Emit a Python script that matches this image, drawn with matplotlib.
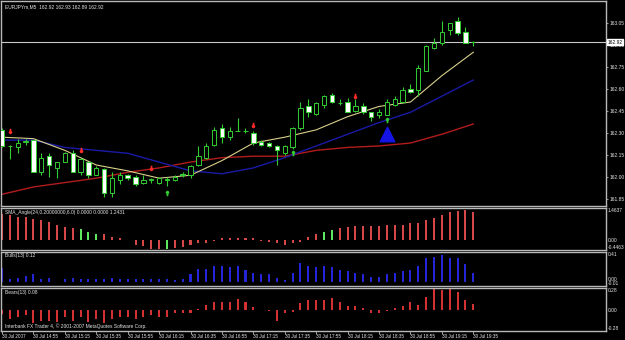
import matplotlib
matplotlib.use('Agg')
import matplotlib.pyplot as plt
import matplotlib.transforms as mtrans
from matplotlib.patches import Rectangle

# EURJPYm M5 candles (61 bars, 14:35 .. 19:35)
opens = [162.32, 162.21, 162.20, 162.24, 162.25, 162.03, 162.14, 162.06, 162.10, 162.16,
         162.03, 162.10, 162.01, 162.05, 161.89, 161.98, 162.01, 162.00, 161.96, 161.98,
         161.96, 161.98, 161.98, 162.02, 162.01, 162.08, 162.13, 162.22, 162.33, 162.27,
         162.31, 162.31, 162.30, 162.24, 162.23, 162.21, 162.16, 162.20, 162.33, 162.48,
         162.43, 162.49, 162.56, 162.50, 162.51, 162.45, 162.48, 162.44, 162.42, 162.42,
         162.49, 162.51, 162.60, 162.59, 162.72, 162.88, 162.91, 163.00, 163.06, 162.99,
         162.92]
highs = [162.33, 162.22, 162.26, 162.26, 162.25, 162.16, 162.16, 162.10, 162.17, 162.18,
         162.13, 162.10, 162.07, 162.06, 162.03, 162.03, 162.02, 162.01, 162.01, 161.99,
         162.00, 162.00, 162.01, 162.03, 162.08, 162.21, 162.23, 162.34, 162.36, 162.34,
         162.40, 162.33, 162.31, 162.25, 162.24, 162.22, 162.22, 162.34, 162.51, 162.53,
         162.51, 162.56, 162.57, 162.53, 162.54, 162.53, 162.50, 162.44, 162.46, 162.53,
         162.55, 162.61, 162.63, 162.76, 162.90, 162.95, 163.06, 163.05, 163.09, 163.02,
         162.93]
lows = [162.20, 162.12, 162.16, 162.22, 162.03, 162.01, 162.00, 161.99, 162.10, 162.03,
        162.01, 161.99, 162.01, 161.86, 161.86, 161.95, 161.98, 161.94, 161.95, 161.96,
        161.95, 161.94, 161.97, 162.00, 161.99, 162.07, 162.12, 162.21, 162.23, 162.25,
        162.31, 162.30, 162.22, 162.21, 162.20, 162.08, 162.15, 162.19, 162.32, 162.41,
        162.42, 162.47, 162.50, 162.49, 162.44, 162.44, 162.43, 162.38, 162.40, 162.42,
        162.48, 162.50, 162.57, 162.55, 162.72, 162.87, 162.90, 162.97, 162.97, 162.91,
        162.89]
closes = [162.21, 162.21, 162.23, 162.24, 162.03, 162.13, 162.08, 162.10, 162.16, 162.03,
          162.12, 162.01, 162.06, 161.89, 161.99, 162.01, 161.99, 161.95, 161.98, 161.98,
          161.99, 161.98, 162.00, 162.01, 162.07, 162.14, 162.21, 162.32, 162.27, 162.31,
          162.31, 162.31, 162.23, 162.22, 162.21, 162.18, 162.21, 162.33, 162.47, 162.44,
          162.50, 162.55, 162.51, 162.50, 162.44, 162.48, 162.44, 162.41, 162.44, 162.51,
          162.53, 162.59, 162.58, 162.74, 162.89, 162.91, 162.99, 163.05, 162.98, 162.91,
          162.92]

# moving averages, sampled every 4th bar
ma_idx = list(range(0, 61, 4))
ma_fast = [162.27, 162.26, 162.18, 162.08, 162.04, 161.99, 162.01, 162.11,
           162.23, 162.27, 162.32, 162.41, 162.48, 162.51, 162.69, 162.85]
ma_mid = [162.25, 162.25, 162.20, 162.18, 162.16, 162.10, 162.04, 162.02,
          162.06, 162.13, 162.21, 162.29, 162.37, 162.44, 162.55, 162.66]
ma_slow = [161.88, 161.93, 161.96, 161.99, 162.03, 162.06, 162.10, 162.13,
           162.14, 162.14, 162.18, 162.20, 162.21, 162.23, 162.29, 162.36]

# fractal arrows and signal
down_idx = [1, 10, 19, 32, 45]
down_val = [162.31, 162.18, 162.06, 162.355, 162.55]
up_idx = [21, 37, 49]
up_val = [161.89, 162.16, 162.39]
signal_idx = [49]
signal_val = [162.29]

price_ticks = [163.05, 162.90, 162.75, 162.60, 162.45, 162.30, 162.15, 162.00, 161.85]
last_price = 162.92

# SMA_Angle histogram
angle = [1.21, 1.14, 1.06, 1.06, 0.98, 0.91, 0.83, 0.71, 0.61, 0.56,
         0.50, 0.38, 0.30, 0.26, 0.15, 0.08, 0.02, -0.20, -0.26, -0.38,
         -0.38, -0.41, -0.35, -0.30, -0.23, -0.15, -0.11, -0.05, 0.08, 0.08,
         0.10, 0.10, 0.08, -0.05, -0.10, -0.15, -0.20, -0.15, -0.08, 0.15,
         0.26, 0.35, 0.45, 0.56, 0.61, 0.65, 0.65, 0.65, 0.65, 0.68,
         0.68, 0.71, 0.76, 0.80, 0.91, 0.99, 1.14, 1.26, 1.32, 1.38,
         1.30]
angle_green = [10, 11, 12, 21, 41, 42]

bulls = [0.19, 0.04, 0.05, 0.08, 0.10, 0.03, 0.05, -0.01, 0.04, 0.05,
         0.03, 0.03, 0.04, 0.03, 0.05, 0.04, 0.03, 0.03, 0.04, 0.03,
         0.04, 0.03, 0.02, 0.03, 0.10, 0.18, 0.17, 0.22, 0.22, 0.20,
         0.22, 0.16, 0.12, 0.10, 0.10, 0.05, 0.02, 0.12, 0.26, 0.22,
         0.20, 0.22, 0.20, 0.16, 0.15, 0.12, 0.10, 0.06, 0.07, 0.11,
         0.12, 0.15, 0.16, 0.22, 0.33, 0.34, 0.37, 0.33, 0.33, 0.24,
         0.12]

bears = [-0.05, -0.11, -0.09, -0.06, -0.16, -0.13, -0.13, -0.15, -0.08, -0.13,
         -0.08, -0.15, -0.11, -0.16, -0.11, -0.08, -0.09, -0.11, -0.08, -0.06,
         -0.08, -0.09, -0.04, -0.04, -0.03, 0.02, 0.07, 0.11, 0.10, 0.11,
         0.14, 0.11, 0.04, 0.01, -0.01, -0.13, -0.04, -0.02, 0.09, 0.13,
         0.13, 0.13, 0.15, 0.11, 0.06, 0.06, 0.03, -0.03, -0.03, -0.01,
         0.03, 0.06, 0.10, 0.07, 0.17, 0.28, 0.25, 0.27, 0.23, 0.13,
         0.08]

time_labels = ['30 Jul 2007', '30 Jul 14:55', '30 Jul 15:15', '30 Jul 15:35',
               '30 Jul 15:55', '30 Jul 16:15', '30 Jul 16:35', '30 Jul 16:55',
               '30 Jul 17:15', '30 Jul 17:35', '30 Jul 17:55', '30 Jul 18:15',
               '30 Jul 18:35', '30 Jul 18:55', '30 Jul 19:15', '30 Jul 19:35']

plt.rcParams['font.family'] = ['Liberation Sans', 'DejaVu Sans']

W, H = 625, 340
FS = 3.5
TXT = '#e6e6e6'
FRAME = '#b8b8b8'
WICK = '#33cc33'

fig = plt.figure(figsize=(W / 100, H / 100), dpi=100, facecolor='black')


def panel(top, bottom):
    a = fig.add_axes([1 / W, (H - bottom) / H, 605 / W, (bottom - top) / H])
    a.set_facecolor('black')
    for s in a.spines.values():
        s.set_color(FRAME)
        s.set_linewidth(1.0)
    a.set_xlim(-0.13, 76.9)
    a.tick_params(axis='x', bottom=False, labelbottom=False)
    a.yaxis.tick_right()
    a.tick_params(axis='y', colors=FRAME, labelcolor=TXT, labelsize=FS,
                  length=1.5, width=0.6, pad=0.8)
    return a


ax = panel(1, 206)
ax2 = panel(208, 250)
ax3 = panel(252, 286)
ax4 = panel(288, 331)

# ---- main price window ----
ax.set_ylim(161.80, 163.20)
xs = list(range(len(opens)))
ax.vlines(xs, lows, highs, color=WICK, lw=0.8, zorder=2)
for i in xs:
    o, c = opens[i], closes[i]
    bot = min(o, c)
    h = max(abs(c - o), 0.003)
    face = 'white' if c < o else 'black'
    ax.add_patch(Rectangle((i - 0.28, bot), 0.56, h, facecolor=face,
                           edgecolor=WICK, lw=0.7, zorder=3))

ax.plot(ma_idx, ma_slow, color='#b21c1c', lw=1.0, zorder=1)
ax.plot(ma_idx, ma_mid, color='#1a1aa6', lw=1.0, zorder=1)
ax.plot(ma_idx, ma_fast, color='#d9d08a', lw=0.8, zorder=1)

ax.scatter(down_idx, down_val, marker=r'$\downarrow$', s=9, color='#ff2a2a', zorder=4)
ax.scatter(up_idx, up_val, marker=r'$\uparrow$', s=9, color=WICK, zorder=4)
ax.scatter(signal_idx, signal_val, marker='^', s=110, color='#1414e6', zorder=4)

ax.axhline(last_price, color='#c8c8c8', lw=0.8, zorder=0)
ax.set_yticks(price_ticks)
ax.set_yticklabels(['%.2f' % p for p in price_ticks])
tr = mtrans.blended_transform_factory(ax.transAxes, ax.transData)
ax.text(1.003, last_price, '%.2f' % last_price, transform=tr, fontsize=FS,
        color='black', va='center', ha='left', zorder=5,
        bbox=dict(facecolor='white', edgecolor='white', pad=0.4))
ax.text(0.006, 0.985, 'EURJPYm,M5  162.92 162.93 162.89 162.92',
        transform=ax.transAxes, fontsize=FS, color=TXT, va='top', ha='left')

# ---- sub windows ----
ang_colors = ['#5ee65e' if i in angle_green else '#d64848' for i in xs]
ax2.bar(xs, angle, width=0.26, color=ang_colors)
ax2.set_ylim(-0.4463, 1.4637)
ax3.bar(xs, bulls, width=0.26, color='#2424d8')
ax3.set_ylim(-0.06, 0.41)
ax4.bar(xs, bears, width=0.26, color='#d43232')
ax4.set_ylim(-0.26, 0.28)


def scale_labels(a, top_txt, zero_va, bot_txt, name):
    a.set_yticks([])
    t = mtrans.blended_transform_factory(a.transAxes, a.transData)
    a.text(1.003, 1.0, top_txt, transform=a.transAxes, fontsize=FS,
           color=TXT, va='top', ha='left')
    a.text(1.003, 0.0, '0.00', transform=t, fontsize=FS, color=TXT,
           va=zero_va, ha='left')
    a.text(1.003, 0.0, bot_txt, transform=a.transAxes, fontsize=FS,
           color=TXT, va='bottom', ha='left')
    a.text(0.006, 0.96, name, transform=a.transAxes, fontsize=FS,
           color=TXT, va='top', ha='left')


scale_labels(ax2, '1.4637', 'center', '-0.4463',
             'SMA_Angle(24,0.20000000,6.0) 0.0000 0.0000 1.2431')
scale_labels(ax3, '0.41', 'bottom', '-0.01', 'Bulls(13) 0.12')
scale_labels(ax4, '0.28', 'center', '-0.28', 'Bears(13) 0.08')

ax4.text(0.006, 0.04, 'Interbank FX Trader 4, \u00a9 2001-2007 MetaQuotes Software Corp.',
         transform=ax4.transAxes, fontsize=FS, color=TXT, va='bottom', ha='left')

ax4.set_xticks(list(range(0, 61, 4)))
ax4.set_xticklabels(time_labels, ha='left')
ax4.tick_params(axis='x', bottom=True, labelbottom=True, colors=FRAME,
                labelcolor=TXT, labelsize=3.3, length=2, width=0.6, pad=0.5)

fig.savefig('out.png', dpi=100, facecolor='black')
